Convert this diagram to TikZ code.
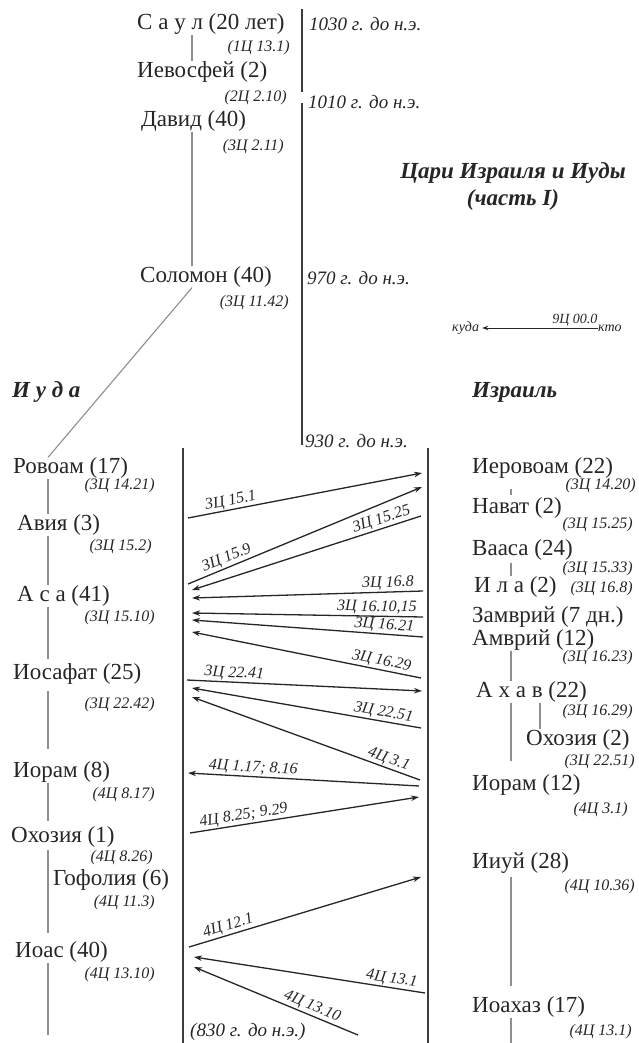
\documentclass[tikz,border=0pt]{standalone}
\usepackage{fontspec}
\setmainfont{Liberation Serif}
\usetikzlibrary{arrows.meta}
\definecolor{ink}{HTML}{262626}
\definecolor{genc}{HTML}{8E8E8E}
\definecolor{barc}{HTML}{3C3C3C}
\begin{document}
\begin{tikzpicture}[x=1pt,y=-1pt,
  kname/.style={anchor=west,inner sep=0pt,text=ink,font=\fontsize{23}{26}\selectfont},
  kref/.style={anchor=east,inner sep=0pt,text=ink,font=\fontsize{16}{18}\selectfont\itshape},
  yr/.style={anchor=west,inner sep=0pt,text=ink,font=\fontsize{19}{22}\selectfont\itshape},
  hd/.style={inner sep=0pt,text=ink,font=\fontsize{23}{27}\selectfont\bfseries\itshape},
  lg/.style={inner sep=0pt,text=ink,font=\fontsize{14}{16}\selectfont\itshape},
  gline/.style={draw=genc,line width=1.1pt},
  tl/.style={draw=barc,line width=2.6pt},
  arrw/.style={draw=ink,line width=1.3pt,-{Stealth[length=8pt,width=5.5pt]}},
  albl/.style={above,sloped,inner sep=1pt,text=ink,font=\fontsize{16}{18}\selectfont\itshape},
]
\fill[white] (0,0) rectangle (638,1043);
\useasboundingbox (0,0) rectangle (638,1043);

% ---------- timeline ----------
\coordinate (t0) at (302,9);
\coordinate (t1) at (302,92);
\coordinate (t2) at (302,103);
\coordinate (t3) at (302,445);
\draw[tl] (t0) -- (t1);
\draw[tl] (t2) -- (t3);
\node[yr] (y1030) at (309,24) {1030 г. до н.э.};
\node[yr] (y1010) at (308,102) {1010 г. до н.э.};
\node[yr] (y970) at (307,278) {970 г. до н.э.};
\node[yr] (y930) at (305,441) {930 г. до н.э.};

% ---------- united kingdom ----------
\node[kname] (saul) at (137,24) {С а у л (20 лет)};
\node[kref] (r1) at (290,48) {(1Ц 13.1)};
\node[kname] (ievosfei) at (137,72) {Иевосфей (2)};
\node[kref] (r2) at (287,98) {(2Ц 2.10)};
\node[kname] (david) at (141,121) {Давид (40)};
\node[kref] (r3) at (284,147) {(3Ц 2.11)};
\node[kname] (solomon) at (140,277) {Соломон (40)};
\node[kref] (r4) at (289,303) {(3Ц 11.42)};
\coordinate (ux) at (192,0);
\draw[gline] (saul.south -| ux) -- (ievosfei.north -| ux);
\draw[gline] (david.south -| ux) -- (solomon.north -| ux);

% ---------- title and legend ----------
\node[hd,align=center] (title) at (513,186) {Цари Израиля и Иуды\\(часть I)};
\node[lg,anchor=west] (kuda) at (452,328) {куда};
\node[lg,anchor=west] (kto) at (598,328) {кто};
\draw[draw=ink,line width=1pt,-{Stealth[length=6pt,width=4.5pt]}] (kto.west) -- node[lg,above,pos=0.2,yshift=1pt] {9Ц 00.0} ([xshift=3pt]kuda.east);

% ---------- headings ----------
\node[hd,anchor=west] (juda) at (12,392) {И у д а};
\node[hd,anchor=west] (israel) at (472,392) {Израиль};

% ---------- columns ----------
\coordinate (lc0) at (183,448); \coordinate (lc1) at (183,1043);
\coordinate (rc0) at (428,448); \coordinate (rc1) at (428,1043);
\draw[tl,line width=2.4pt] (lc0) -- (lc1);
\draw[tl,line width=2.4pt] (rc0) -- (rc1);

% ---------- Judah ----------
\node[kname] (rovoam) at (13,468) {Ровоам (17)};
\node[kref] at (155,486) {(3Ц 14.21)};
\node[kname] (avia) at (17,525) {Авия (3)};
\node[kref] at (152,547) {(3Ц 15.2)};
\node[kname] (asa) at (17,596) {А с а (41)};
\node[kref] at (155,618) {(3Ц 15.10)};
\node[kname] (iosafat) at (13,674) {Иосафат (25)};
\node[kref] at (155,705) {(3Ц 22.42)};
\node[kname] (ioram8) at (13,772) {Иорам (8)};
\node[kref] at (155,795) {(4Ц 8.17)};
\node[kname] (ohozia1) at (11,837) {Охозия (1)};
\node[kref] at (153,858) {(4Ц 8.26)};
\node[kname] (gofolia) at (53,880) {Гофолия (6)};
\node[kref] at (155,903) {(4Ц 11.3)};
\node[kname] (ioas) at (15,952) {Иоас (40)};
\node[kref] at (155,975) {(4Ц 13.10)};
\node[yr] (y830) at (190,1032) {(830 г. до н.э.)};

\coordinate (jx) at (48,0);
\coordinate (jend) at (48,1035);
\draw[gline] (solomon.south -| ux) -- (rovoam.north -| jx);
\draw[gline] (rovoam.south -| jx) -- (avia.north -| jx);
\draw[gline] (avia.south -| jx) -- (asa.north -| jx);
\draw[gline,shorten >=4pt] (asa.south -| jx) -- (iosafat.north -| jx);
\draw[gline,shorten <=6pt,shorten >=12pt] (iosafat.south -| jx) -- (ioram8.north -| jx);
\draw[gline,shorten >=5pt] (ioram8.south -| jx) -- (ohozia1.north -| jx);
\draw[gline,shorten <=2pt,shorten >=8pt] (ohozia1.south -| jx) -- (ioas.north -| jx);
\draw[gline] (ioas.south -| jx) -- (jend);

% ---------- Israel ----------
\node[kname] (ierovoam) at (472,468) {Иеровоам (22)};
\node[kref] at (636,486) {(3Ц 14.20)};
\node[kname] (navat) at (472,508) {Нават (2)};
\node[kref] at (633,525) {(3Ц 15.25)};
\node[kname] (vaasa) at (472,550) {Вааса (24)};
\node[kref] at (633,569) {(3Ц 15.33)};
\node[kname] (ila) at (474,587) {И л а (2)};
\node[kref] at (633,589) {(3Ц 16.8)};
\node[kname] (zamvri) at (472,617) {Замврий (7 дн.)};
\node[kname] (amvri) at (472,640) {Амврий (12)};
\node[kref] at (633,658) {(3Ц 16.23)};
\node[kname] (ahav) at (476,692) {А х а в (22)};
\node[kref] at (633,712) {(3Ц 16.29)};
\node[kname] (ohozia2) at (526,740) {Охозия (2)};
\node[kref] at (635,762) {(3Ц 22.51)};
\node[kname] (ioram12) at (472,785) {Иорам (12)};
\node[kref] at (628,810) {(4Ц 3.1)};
\node[kname] (iiuy) at (472,863) {Ииуй (28)};
\node[kref] at (635,887) {(4Ц 10.36)};
\node[kname] (ioahaz) at (472,1007) {Иоахаз (17)};
\node[kref] at (632,1032) {(4Ц 13.1)};

\coordinate (ix) at (511,0);
\coordinate (ox) at (540,0);
\coordinate (iend) at (511,1043);
\draw[gline,shorten <=10pt,shorten >=2pt] (ierovoam.south -| ix) -- (navat.north -| ix);
\draw[gline,shorten <=2pt] (vaasa.south -| ix) -- (ila.north -| ix);
\draw[gline] (amvri.south -| ix) -- (ahav.north -| ix);
\draw[gline,shorten >=13pt] (ahav.south -| ix) -- (ioram12.north -| ix);
\draw[gline] (ahav.south -| ox) -- (ohozia2.north -| ox);
\draw[gline,shorten <=3pt,shorten >=10pt] (iiuy.south -| ix) -- (ioahaz.north -| ix);
\draw[gline] (ioahaz.south -| ix) -- (iend);

% ---------- synchronisms ----------
\coordinate (a1s) at (188,518);  \coordinate (a1e) at (422,473);
\coordinate (a2s) at (188,584);  \coordinate (a2e) at (422,487);
\coordinate (a3s) at (421,516);  \coordinate (a3e) at (192,590);
\coordinate (a4s) at (423,591);  \coordinate (a4e) at (192,598);
\coordinate (a5s) at (423,617);  \coordinate (a5e) at (192,613);
\coordinate (a6s) at (423,637);  \coordinate (a6e) at (192,620);
\coordinate (a7s) at (421,678);  \coordinate (a7e) at (192,632);
\coordinate (a8s) at (187,680);  \coordinate (a8e) at (422,691);
\coordinate (a9s) at (421,728);  \coordinate (a9e) at (192,688);
\coordinate (a10s) at (420,780); \coordinate (a10e) at (192,697);
\coordinate (a11s) at (419,786); \coordinate (a11e) at (188,773);
\coordinate (a12s) at (190,833); \coordinate (a12e) at (419,797);
\coordinate (a13s) at (189,947); \coordinate (a13e) at (421,877);
\coordinate (a14s) at (425,993); \coordinate (a14e) at (194,957);
\coordinate (a15s) at (358,1035); \coordinate (a15e) at (194,967);

\draw[arrw] (a1s) -- node[albl,pos=0.19] {3Ц 15.1} (a1e);
\draw[arrw] (a2s) -- node[albl,pos=0.18] {3Ц 15.9} (a2e);
\draw[arrw] (a3s) -- node[albl,pos=0.16] {3Ц 15.25} (a3e);
\draw[arrw] (a4s) -- node[albl,pos=0.15] {3Ц 16.8} (a4e);
\draw[arrw] (a5s) -- node[albl,pos=0.2] {3Ц 16.10,15} (a5e);
\draw[arrw] (a6s) -- node[albl,pos=0.17] {3Ц 16.21} (a6e);
\draw[arrw] (a7s) -- node[albl,pos=0.18] {3Ц 16.29} (a7e);
\draw[arrw] (a8s) -- node[albl,pos=0.2] {3Ц 22.41} (a8e);
\draw[arrw] (a9s) -- node[albl,pos=0.17] {3Ц 22.51} (a9e);
\draw[arrw] (a10s) -- node[albl,pos=0.15] {4Ц 3.1} (a10e);
\draw[arrw] (a11s) -- node[albl,pos=0.72] {4Ц 1.17; 8.16} (a11e);
\draw[arrw] (a12s) -- node[albl,pos=0.24] {4Ц 8.25; 9.29} (a12e);
\draw[arrw] (a13s) -- node[albl,pos=0.18] {4Ц 12.1} (a13e);
\draw[arrw] (a14s) -- node[albl,pos=0.15] {4Ц 13.1} (a14e);
\draw[arrw] (a15s) -- node[albl,pos=0.3] {4Ц 13.10} (a15e);
\end{tikzpicture}
\end{document}
